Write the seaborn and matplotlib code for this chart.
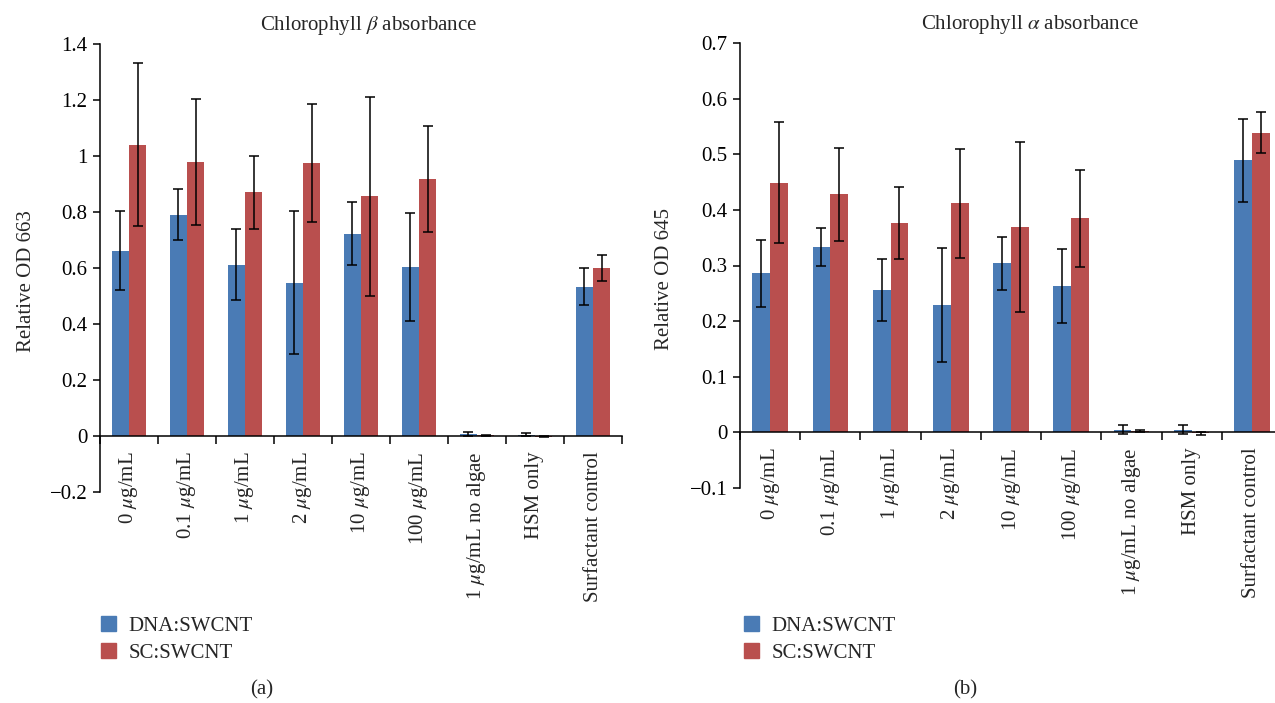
import pandas as pd
import matplotlib
matplotlib.use("Agg")
import matplotlib.pyplot as plt
import seaborn as sns

# Categories and series
categories = ["0 $\\mu$g/mL", "0.1 $\\mu$g/mL", "1 $\\mu$g/mL", "2 $\\mu$g/mL",
              "10 $\\mu$g/mL", "100 $\\mu$g/mL", "1 $\\mu$g/mL no algae",
              "HSM only", "Surfactant control"]
series = ["DNA:SWCNT", "SC:SWCNT"]

# Chlorophyll b (OD 663)
b_dna = [0.662, 0.791, 0.612, 0.548, 0.723, 0.605, 0.008, 0.005, 0.533]
b_dna_err = [0.140, 0.090, 0.128, 0.254, 0.113, 0.193, 0.008, 0.006, 0.066]
b_sc = [1.041, 0.980, 0.870, 0.976, 0.856, 0.917, 0.002, -0.002, 0.601]
b_sc_err = [0.290, 0.225, 0.131, 0.210, 0.355, 0.190, 0.002, 0.002, 0.046]

# Chlorophyll a (OD 645)
a_dna = [0.286, 0.333, 0.256, 0.229, 0.304, 0.263, 0.005, 0.005, 0.489]
a_dna_err = [0.060, 0.034, 0.055, 0.103, 0.048, 0.067, 0.008, 0.008, 0.074]
a_sc = [0.449, 0.428, 0.376, 0.412, 0.369, 0.385, 0.002, -0.002, 0.539]
a_sc_err = [0.109, 0.084, 0.065, 0.098, 0.153, 0.087, 0.002, 0.002, 0.037]

colors = ["#4a7bb5", "#b94f4e"]
FS = 15

sns.set_style("ticks")
plt.rcParams["font.family"] = ["Liberation Serif", "DejaVu Serif"]
plt.rcParams["mathtext.fontset"] = "stix"
plt.rcParams["axes.unicode_minus"] = True


def fmt(v, pos):
    s = f"{v:g}"
    if s == "-0":
        s = "0"
    return s.replace("-", "\u2212")


def panel(ax, dna, dna_err, sc, sc_err, ylim, yticks, ylabel, title, title_x):
    df = pd.DataFrame({
        "cat": categories * 2,
        "series": [series[0]] * len(categories) + [series[1]] * len(categories),
        "value": dna + sc,
    })
    sns.barplot(data=df, x="cat", y="value", hue="series", order=categories,
                hue_order=series, palette=colors, width=0.59, saturation=1,
                errorbar=None, legend=False, ax=ax)
    for cont in ax.containers:
        for p in cont.patches:
            p.set_edgecolor("none")
    for cont, vals, errs in zip(list(ax.containers), [dna, sc], [dna_err, sc_err]):
        xs = [p.get_x() + p.get_width() / 2 for p in cont.patches]
        ax.errorbar(xs, vals, yerr=errs, fmt="none", ecolor="black",
                    elinewidth=1.1, capsize=3.8, capthick=1.1)

    ax.set_ylim(*ylim)
    ax.set_xlim(-0.5, len(categories) - 0.5)
    ax.set_yticks(yticks)
    ax.yaxis.set_major_formatter(matplotlib.ticker.FuncFormatter(fmt))
    ax.spines["top"].set_visible(False)
    ax.spines["right"].set_visible(False)
    ax.spines["bottom"].set_position(("data", 0))
    for sp in ("left", "bottom"):
        ax.spines[sp].set_color("black")
        ax.spines[sp].set_linewidth(1.1)
    ax.tick_params(axis="y", direction="out", length=5, width=1.1,
                   labelsize=FS, colors="black", pad=4)
    ax.set_xticks(range(len(categories)))
    ax.set_xticklabels(categories, rotation=90, fontsize=FS, va="top")
    ax.set_xticks([i - 0.5 for i in range(len(categories) + 1)], minor=True)
    ax.tick_params(axis="x", which="major", length=0, pad=11)
    ax.tick_params(axis="x", which="minor", direction="out", length=6,
                   width=1.1, color="black")
    ax.set_xlabel("")
    ax.set_ylabel(ylabel, fontsize=FS)
    ax.yaxis.set_label_coords(-0.122, 0.47)
    ax.set_title(title, fontsize=FS, x=title_x, pad=10)


fig = plt.figure(figsize=(12.75, 7.03), dpi=100)
ax1 = fig.add_axes([100 / 1275, 1 - 492 / 703, 522 / 1275, 448 / 703])
ax2 = fig.add_axes([740 / 1275, 1 - 488 / 703, 542 / 1275, 445 / 703])

panel(ax1, b_dna, b_dna_err, b_sc, b_sc_err, (-0.2, 1.4),
      [-0.2, 0, 0.2, 0.4, 0.6, 0.8, 1.0, 1.2, 1.4],
      "Relative OD 663", "Chlorophyll $\\beta$ absorbance", 0.515)
panel(ax2, a_dna, a_dna_err, a_sc, a_sc_err, (-0.1, 0.7),
      [-0.1, 0, 0.1, 0.2, 0.3, 0.4, 0.5, 0.6, 0.7],
      "Relative OD 645", "Chlorophyll $\\alpha$ absorbance", 0.535)

handles = [matplotlib.patches.Patch(color=c) for c in colors]
for x0 in (101, 744):
    fig.legend(handles, series, loc="upper left",
               bbox_to_anchor=(x0 / 1275, 1 - 616 / 703),
               frameon=False, fontsize=FS, handlelength=0.72, handleheight=0.72,
               handletextpad=0.6, borderpad=0, borderaxespad=0,
               labelspacing=0.36)

fig.text(262 / 1275, 1 - 690 / 703, "(a)", ha="center", va="center", fontsize=FS)
fig.text(965 / 1275, 1 - 690 / 703, "(b)", ha="center", va="center", fontsize=FS)

fig.savefig("out.png", dpi=100)
